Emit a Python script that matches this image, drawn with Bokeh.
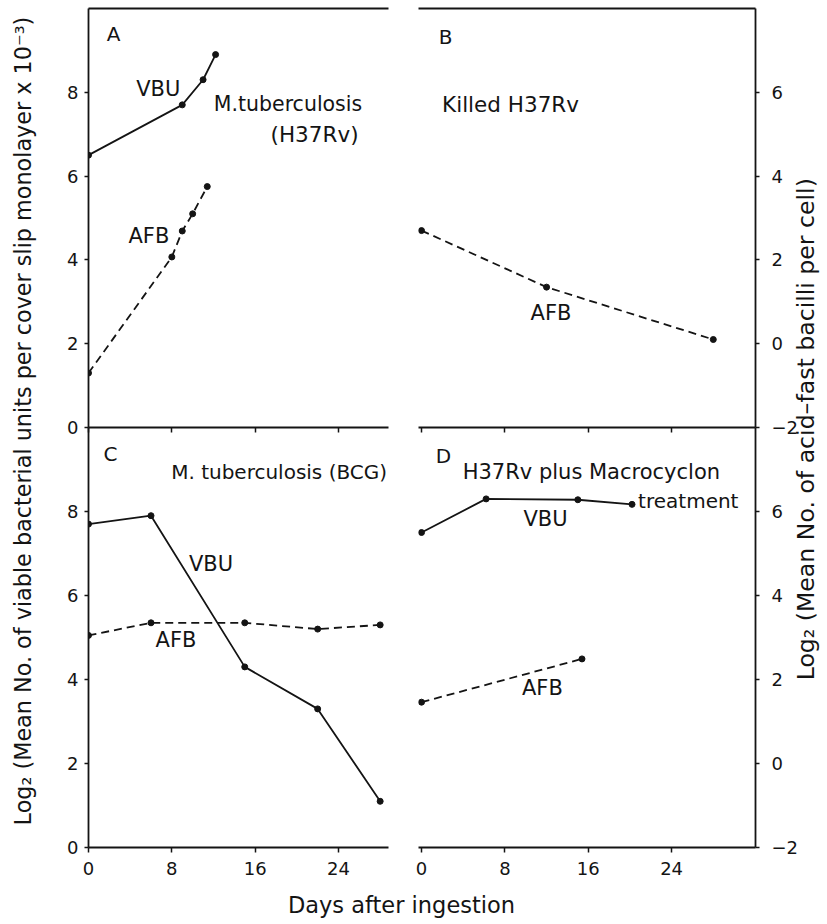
import math
from bokeh.plotting import figure
from bokeh.models import Range1d, LinearAxis, FixedTicker, Label
from bokeh.layouts import row, column
from bokeh.embed import file_html
from bokeh.resources import INLINE

# ---------------- data ----------------
day_ticks = [0, 8, 16, 24]
vbu_ticks = [0, 2, 4, 6, 8]
afb_ticks = [-2, 0, 2, 4, 6]

# Panel A : M. tuberculosis (H37Rv)
a_vbu_day = [0, 9, 11, 12.2]
a_vbu_val = [6.5, 7.7, 8.3, 8.9]
a_afb_day = [0, 8, 9, 10, 11.4]
a_afb_val = [-0.7, 2.07, 2.69, 3.1, 3.75]
# Panel B : killed H37Rv
b_afb_day = [0, 12, 28]
b_afb_val = [2.7, 1.35, 0.1]
# Panel C : M. tuberculosis (BCG)
c_vbu_day = [0, 6, 15, 22, 28]
c_vbu_val = [7.7, 7.9, 4.3, 3.3, 1.1]
c_afb_day = [0, 6, 15, 22, 28]
c_afb_val = [3.05, 3.35, 3.35, 3.2, 3.3]
# Panel D : H37Rv plus Macrocyclon treatment
d_vbu_day = [0, 6.2, 15, 20.2]
d_vbu_val = [7.5, 8.3, 8.28, 8.17]
d_afb_day = [0, 15.4]
d_afb_val = [1.46, 2.49]

FONT = "DejaVu Sans"
INK = "#141414"
W, H = 827, 924
BT = 22   # bottom border of the top row (overlapped by the bottom row)
TOP = 8   # top border of the top row
BOT = 77  # bottom border of the bottom row


def base_fig(width, height, left, right, top, bottom, xr, yr, yloc):
    p = figure(width=width, height=height, x_range=xr, y_range=yr,
               toolbar_location=None, output_backend="svg",
               min_border_left=left, min_border_right=right,
               min_border_top=top, min_border_bottom=bottom,
               y_axis_location=yloc, x_axis_location="below")
    p.outline_line_color = None
    p.grid.visible = False
    p.background_fill_color = None
    p.border_fill_color = None
    return p


def style_axis(ax, ticks, show_labels, tick_out, standoff=6):
    ax.ticker = FixedTicker(ticks=ticks)
    ax.axis_line_color = INK
    ax.axis_line_width = 1.8
    ax.major_tick_line_color = INK
    ax.major_tick_line_width = 1.5
    ax.major_tick_out = tick_out
    ax.major_tick_in = 0
    ax.minor_tick_line_color = None
    ax.major_label_text_font = FONT
    ax.major_label_text_font_size = "18px"
    ax.major_label_standoff = standoff
    ax.major_label_text_color = INK if show_labels else None


def top_line(p):
    ax = LinearAxis()
    style_axis(ax, [], False, 0, 0)
    p.add_layout(ax, "above")


def txt(p, x, y, s, size="20px", range_name=None):
    kw = {}
    if range_name:
        kw["y_range_name"] = range_name
    p.add_layout(Label(x=x, y=y, text=s, text_font=FONT, text_font_size=size,
                       text_color=INK, text_align="center",
                       text_baseline="middle", **kw))


def solid(p, xs, ys, **kw):
    p.line(xs, ys, line_color=INK, line_width=1.8, **kw)
    p.scatter(xs, ys, size=6, color=INK, **kw)


def dashed(p, xs, ys, **kw):
    p.line(xs, ys, line_color=INK, line_width=1.8, line_dash="8 5", **kw)
    p.scatter(xs, ys, size=6, color=INK, **kw)


X1 = (0, 28.8)
X2 = (-0.29, 32.05)

# ---------------- panel A ----------------
pA = base_fig(403, TOP + 419 + BT, 88, 15, TOP, BT,
              Range1d(*X1), Range1d(0, 10), "left")
pA.extra_y_ranges = {"afb": Range1d(-2, 8)}
style_axis(pA.yaxis[0], vbu_ticks, True, 4)
style_axis(pA.xaxis[0], day_ticks, False, 5)
top_line(pA)
solid(pA, a_vbu_day, a_vbu_val)
dashed(pA, a_afb_day, a_afb_val, y_range_name="afb")
txt(pA, 2.4, 9.38, "A")
txt(pA, 6.7, 8.07, "VBU", "21px")
txt(pA, 19.15, 7.71, "M.tuberculosis", "20.5px")
txt(pA, 21.7, 7.0, "(H37Rv)", "21.5px")
txt(pA, 5.8, 4.57, "AFB", "21px")

# ---------------- panel B ----------------
pB = base_fig(412, TOP + 419 + BT, 15, 60, TOP, BT,
              Range1d(*X2), Range1d(-2, 8), "right")
style_axis(pB.yaxis[0], afb_ticks, True, 4, 12)
style_axis(pB.xaxis[0], day_ticks, False, 5)
top_line(pB)
dashed(pB, b_afb_day, b_afb_val)
txt(pB, 2.3, 7.33, "B")
txt(pB, 8.54, 5.71, "Killed H37Rv", "21.5px")
txt(pB, 12.43, 0.74, "AFB", "21px")

# ---------------- panel C ----------------
pC = base_fig(403, 420 + BOT, 88, 15, 0, BOT,
              Range1d(*X1), Range1d(0, 10), "left")
pC.extra_y_ranges = {"afb": Range1d(-2, 8)}
style_axis(pC.yaxis[0], vbu_ticks, True, 4)
style_axis(pC.xaxis[0], day_ticks, True, 5, 9)
solid(pC, c_vbu_day, c_vbu_val)
dashed(pC, c_afb_day, c_afb_val, y_range_name="afb")
txt(pC, 2.1, 9.38, "C")
txt(pC, 18.3, 8.93, "M. tuberculosis (BCG)", "20px")
txt(pC, 11.76, 6.76, "VBU", "21px")
txt(pC, 8.4, 4.93, "AFB", "21px")

# ---------------- panel D ----------------
pD = base_fig(412, 420 + BOT, 15, 60, 0, BOT,
              Range1d(*X2), Range1d(-2, 8), "right")
pD.extra_y_ranges = {"vbu": Range1d(0, 10)}
style_axis(pD.yaxis[0], afb_ticks, True, 4, 12)
style_axis(pD.xaxis[0], day_ticks, True, 5, 9)
solid(pD, d_vbu_day, d_vbu_val, y_range_name="vbu")
dashed(pD, d_afb_day, d_afb_val)
txt(pD, 2.1, 7.33, "D")
txt(pD, 16.3, 6.93, "H37Rv plus Macrocyclon", "21px")
txt(pD, 25.6, 6.26, "treatment", "20px")
txt(pD, 11.9, 5.83, "VBU", "21px")
txt(pD, 11.6, 1.79, "AFB", "21px")

# ---------------- background with shared axis titles ----------------
pBG = figure(width=W, height=H, x_range=Range1d(0, 1), y_range=Range1d(0, 1),
             toolbar_location=None, output_backend="svg",
             x_axis_type=None, y_axis_type=None, min_border=0)
pBG.outline_line_color = None
pBG.grid.visible = False
pBG.background_fill_color = None
pBG.border_fill_color = None
for (sx, sy, s, ang, base, size) in [
        (22, H - 417, "Log\u2082  (Mean No. of viable bacterial units per cover slip monolayer x 10\u207b\u00b3)",
         math.pi / 2, "middle", "22.3px"),
        (805, H - 425, "Log\u2082  (Mean No. of acid\u2013fast bacilli per cell)",
         math.pi / 2, "middle", "23.6px"),
        (401, H - 904, "Days after ingestion", 0, "middle", "22.5px")]:
    pBG.add_layout(Label(x=sx, y=sy, x_units="screen", y_units="screen", text=s,
                         angle=ang, text_font=FONT, text_font_size=size,
                         text_color=INK, text_align="center", text_baseline=base))

top = row(pA, pB, margin=(-H, 0, 0, 0))
bottom = row(pC, pD, margin=(-BT, 0, 0, 0))
root = column(pBG, top, bottom)

open("out.html", "w").write(file_html(root, INLINE))
